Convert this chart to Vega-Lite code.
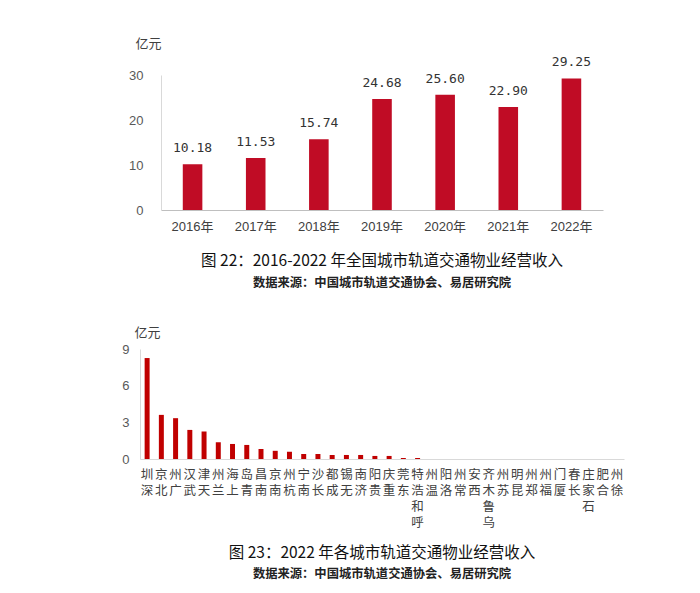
{
  "$schema": "https://vega.github.io/schema/vega-lite/v6.json",
  "background": "white",
  "padding": {"left": 121, "top": 37, "right": 5, "bottom": 5},
  "config": {"view": {"stroke": null}, "font": "Liberation Sans, Noto Sans CJK SC"},
  "datasets": {
    "years": [
      {"year": "2016年", "value": 10.18},
      {"year": "2017年", "value": 11.53},
      {"year": "2018年", "value": 15.74},
      {"year": "2019年", "value": 24.68},
      {"year": "2020年", "value": 25.60},
      {"year": "2021年", "value": 22.90},
      {"year": "2022年", "value": 29.25}
    ],
    "cities": [
      {"city": "深圳", "value": 8.26},
      {"city": "北京", "value": 3.61},
      {"city": "广州", "value": 3.34},
      {"city": "武汉", "value": 2.38},
      {"city": "天津", "value": 2.24},
      {"city": "兰州", "value": 1.37},
      {"city": "上海", "value": 1.23},
      {"city": "青岛", "value": 1.15},
      {"city": "南昌", "value": 0.82},
      {"city": "南京", "value": 0.67},
      {"city": "杭州", "value": 0.6},
      {"city": "南宁", "value": 0.41},
      {"city": "长沙", "value": 0.41},
      {"city": "成都", "value": 0.33},
      {"city": "无锡", "value": 0.33},
      {"city": "济南", "value": 0.33},
      {"city": "贵阳", "value": 0.25},
      {"city": "重庆", "value": 0.25},
      {"city": "东莞", "value": 0.08},
      {"city": "呼和浩特", "value": 0.08},
      {"city": "温州", "value": 0},
      {"city": "洛阳", "value": 0},
      {"city": "常州", "value": 0},
      {"city": "西安", "value": 0},
      {"city": "乌鲁木齐", "value": 0},
      {"city": "苏州", "value": 0},
      {"city": "昆明", "value": 0},
      {"city": "郑州", "value": 0},
      {"city": "福州", "value": 0},
      {"city": "厦门", "value": 0},
      {"city": "长春", "value": 0},
      {"city": "石家庄", "value": 0},
      {"city": "合肥", "value": 0},
      {"city": "徐州", "value": 0}
    ]
  },
  "center": true,
  "bounds": "flush",
  "spacing": 139,
  "vconcat": [
    {
      "width": 442,
      "height": 135,
      "data": {"name": "years"},
      "title": {
        "text": "图 22：2016-2022 年全国城市轨道交通物业经营收入",
        "subtitle": "数据来源：中国城市轨道交通协会、易居研究院",
        "orient": "bottom",
        "anchor": "middle",
        "font": "Noto Sans CJK SC",
        "fontSize": 15.5,
        "fontWeight": "normal",
        "color": "#111111",
        "subtitleFont": "Noto Sans CJK SC",
        "subtitleFontSize": 12.3,
        "subtitleFontWeight": "bold",
        "subtitleColor": "#222222",
        "offset": 21,
        "subtitlePadding": 7
      },
      "encoding": {
        "x": {
          "field": "year",
          "type": "nominal",
          "sort": null,
          "scale": {"paddingInner": 0.69, "paddingOuter": 0.345},
          "axis": {
            "title": null,
            "labelAngle": 0,
            "ticks": false,
            "domainColor": "#BFBFBF",
            "labelPadding": 10,
            "labelFontSize": 13,
            "labelColor": "#404040"
          }
        },
        "y": {
          "field": "value",
          "type": "quantitative",
          "scale": {"domain": [0, 30], "nice": false},
          "axis": {
            "values": [0, 10, 20, 30],
            "grid": false,
            "ticks": false,
            "domainColor": "#D9D9D9",
            "labelPadding": 18,
            "labelFontSize": 13,
            "labelColor": "#595959",
            "title": "亿元",
            "titleAngle": 0,
            "titleAlign": "left",
            "titleBaseline": "middle",
            "titleX": -26,
            "titleY": -32,
            "titleFont": "Noto Sans CJK SC",
            "titleFontSize": 13,
            "titleFontWeight": "normal",
            "titleColor": "#404040"
          }
        }
      },
      "layer": [
        {"mark": {"type": "bar", "color": "#C00C25"}},
        {
          "mark": {"type": "text", "baseline": "bottom", "dy": -9, "font": "DejaVu Sans Mono", "fontSize": 13, "color": "#333333"},
          "encoding": {"text": {"field": "value", "type": "quantitative", "format": ".2f"}}
        }
      ]
    },
    {
      "width": 484,
      "height": 110,
      "data": {"name": "cities"},
      "title": {
        "text": "图 23：2022 年各城市轨道交通物业经营收入",
        "subtitle": "数据来源：中国城市轨道交通协会、易居研究院",
        "orient": "bottom",
        "anchor": "middle",
        "font": "Noto Sans CJK SC",
        "fontSize": 15.5,
        "fontWeight": "normal",
        "color": "#111111",
        "subtitleFont": "Noto Sans CJK SC",
        "subtitleFontSize": 12.3,
        "subtitleFontWeight": "bold",
        "subtitleColor": "#222222",
        "offset": 17,
        "subtitlePadding": 7
      },
      "mark": {"type": "bar", "color": "#C00000"},
      "encoding": {
        "x": {
          "field": "city",
          "type": "nominal",
          "sort": null,
          "scale": {"paddingInner": 0.65, "paddingOuter": 0.325},
          "axis": {
            "title": null,
            "labelAngle": 0,
            "ticks": false,
            "domainColor": "#D9D9D9",
            "labelPadding": 9,
            "labelFont": "Noto Sans CJK SC",
            "labelFontSize": 12.5,
            "labelColor": "#404040",
            "labelBaseline": "top",
            "labelLineHeight": 16,
            "labelOverlap": false,
            "labelBound": false,
            "labelLimit": 0,
            "labelExpr": "reverse(split(datum.value, ''))"
          }
        },
        "y": {
          "field": "value",
          "type": "quantitative",
          "scale": {"domain": [0, 9], "nice": false},
          "axis": {
            "values": [0, 3, 6, 9],
            "grid": false,
            "ticks": false,
            "domainColor": "#D9D9D9",
            "labelPadding": 11,
            "labelFontSize": 13,
            "labelColor": "#595959",
            "title": "亿元",
            "titleAngle": 0,
            "titleAlign": "left",
            "titleBaseline": "middle",
            "titleX": -6,
            "titleY": -17,
            "titleFont": "Noto Sans CJK SC",
            "titleFontSize": 13,
            "titleFontWeight": "normal",
            "titleColor": "#404040"
          }
        }
      }
    }
  ]
}
